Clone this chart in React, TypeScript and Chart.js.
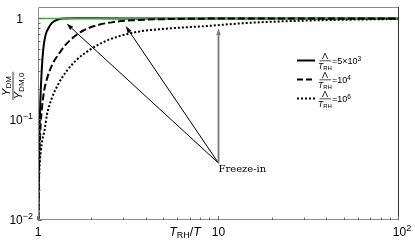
import React, { useEffect, useRef } from 'react';
import { Chart, registerables } from 'chart.js';

Chart.register(...registerables);

// x = T_RH / T, y = Y_DM / Y_DM,0
const solidX = [1.002, 1.006, 1.01, 1.02, 1.03, 1.05, 1.07, 1.1, 1.15, 1.2, 1.3, 1.4, 1.6, 2, 3, 5, 10, 30, 100];
const solidY = [0.006, 0.014, 0.03, 0.08, 0.15, 0.32, 0.5, 0.68, 0.82, 0.91, 0.98, 1.0, 1.008, 1.004, 1.0, 1.0, 1.0, 1.0, 1.0];

const dashedX = [1.002, 1.006, 1.01, 1.02, 1.035, 1.05, 1.08, 1.12, 1.2, 1.3, 1.4, 1.57, 1.78, 2.2, 2.6, 3.35, 5, 8, 15, 100];
const dashedY = [0.005, 0.013, 0.025, 0.05, 0.09, 0.125, 0.19, 0.25, 0.35, 0.44, 0.53, 0.65, 0.76, 0.87, 0.92, 0.96, 0.985, 0.996, 1.0, 1.0];

const dottedX = [1.002, 1.006, 1.013, 1.025, 1.05, 1.09, 1.12, 1.19, 1.29, 1.44, 1.64, 1.94, 2.29, 2.84, 3.6, 5, 8.5, 14, 22, 40, 70, 100];
const dottedY = [0.005, 0.012, 0.025, 0.038, 0.058, 0.08, 0.11, 0.16, 0.22, 0.3, 0.39, 0.49, 0.58, 0.67, 0.74, 0.79, 0.84, 0.9, 0.935, 0.965, 0.98, 0.99];

const greenX = [1, 100];
const greenY = [1, 1];

// axis ticks
const xMajor = [1, 10, 100];
const xMajorBase = ['1', '10', '10'];
const xMajorExp = ['', '', '2'];
const xMinor = [2, 3, 4, 5, 6, 7, 8, 9, 20, 30, 40, 50, 60, 70, 80, 90];
const yMajor = [0.01, 0.1, 1];
const yMajorBase = ['10', '10', '1'];
const yMajorExp = ['\u22122', '\u22121', ''];
const yMinor = [0.02, 0.03, 0.04, 0.05, 0.06, 0.07, 0.08, 0.09, 0.2, 0.3, 0.4, 0.5, 0.6, 0.7, 0.8, 0.9];

// legend values: Λ/T_RH = ...
const legendBase = ['5\u00d710', '10', '10'];
const legendExp = ['3', '4', '6'];

// "Freeze-in" annotation arrows (data coordinates)
const arrowTailX = 10;
const arrowTailY = 0.0367;
const arrowHeadX = [1.44, 3.06, 10];
const arrowHeadY = [0.89, 0.84, 0.8];

const SANS = '"Liberation Sans", Arial, sans-serif';
const SERIF = '"DejaVu Serif", serif';

type Part = { t: string; f: string; dy?: number };

function richWidth(ctx: CanvasRenderingContext2D, parts: Part[]) {
  let w = 0;
  for (const p of parts) {
    ctx.font = p.f;
    w += ctx.measureText(p.t).width;
  }
  return w;
}

function drawRich(ctx: CanvasRenderingContext2D, parts: Part[], x: number, y: number, align: 'left' | 'center' | 'right') {
  const w = richWidth(ctx, parts);
  let cx = align === 'left' ? x : align === 'center' ? x - w / 2 : x - w;
  ctx.textAlign = 'left';
  ctx.textBaseline = 'alphabetic';
  for (const p of parts) {
    ctx.font = p.f;
    ctx.fillText(p.t, cx, y + (p.dy || 0));
    cx += ctx.measureText(p.t).width;
  }
  return w;
}

function arrow(ctx: CanvasRenderingContext2D, x0: number, y0: number, x1: number, y1: number, color: string, lw: number, hl: number, hw: number) {
  const ang = Math.atan2(y1 - y0, x1 - x0);
  const bx = x1 - hl * Math.cos(ang);
  const by = y1 - hl * Math.sin(ang);
  ctx.strokeStyle = color;
  ctx.fillStyle = color;
  ctx.lineWidth = lw;
  ctx.setLineDash([]);
  ctx.beginPath();
  ctx.moveTo(x0, y0);
  ctx.lineTo(bx, by);
  ctx.stroke();
  ctx.beginPath();
  ctx.moveTo(x1, y1);
  ctx.lineTo(bx + (hw / 2) * Math.sin(ang), by - (hw / 2) * Math.cos(ang));
  ctx.lineTo(bx - (hw / 2) * Math.sin(ang), by + (hw / 2) * Math.cos(ang));
  ctx.closePath();
  ctx.fill();
}

const overlay = {
  id: 'overlay',
  afterDraw(chart: any) {
    const ctx: CanvasRenderingContext2D = chart.ctx;
    const a = chart.chartArea;
    const xs = chart.scales.x;
    const ys = chart.scales.y;
    const px = (v: number) => xs.getPixelForValue(v);
    const py = (v: number) => ys.getPixelForValue(v);
    ctx.save();

    // frame
    ctx.setLineDash([]);
    ctx.lineWidth = 1;
    ctx.strokeStyle = '#8c8c8c';
    ctx.beginPath();
    ctx.moveTo(a.left + 0.5, a.top + 0.5);
    ctx.lineTo(a.right - 0.5, a.top + 0.5);
    ctx.moveTo(a.left + 0.5, a.top + 0.5);
    ctx.lineTo(a.left + 0.5, a.bottom - 0.5);
    ctx.lineTo(a.right - 0.5, a.bottom - 0.5);
    ctx.stroke();
    ctx.strokeStyle = '#333';
    ctx.beginPath();
    ctx.moveTo(a.right - 0.5, a.top);
    ctx.lineTo(a.right - 0.5, a.bottom);
    ctx.stroke();

    // ticks
    ctx.strokeStyle = '#666';
    ctx.beginPath();
    for (const v of xMajor) {
      const x = Math.round(px(v)) - 0.5;
      ctx.moveTo(x, a.bottom);
      ctx.lineTo(x, a.bottom - 4);
    }
    for (const v of xMinor) {
      const x = Math.round(px(v)) - 0.5;
      ctx.moveTo(x, a.bottom);
      ctx.lineTo(x, a.bottom - 2.5);
    }
    for (const v of yMajor) {
      const y = Math.round(py(v)) + 0.5;
      ctx.moveTo(a.left, y);
      ctx.lineTo(a.left + 4, y);
    }
    for (const v of yMinor) {
      const y = Math.round(py(v)) + 0.5;
      ctx.moveTo(a.left, y);
      ctx.lineTo(a.left + 2.5, y);
    }
    ctx.stroke();

    // tick labels
    ctx.fillStyle = '#000';
    const f12 = `12px ${SANS}`;
    const f9 = `9px ${SANS}`;
    xMajor.forEach((v, i) => {
      const parts: Part[] = [{ t: xMajorBase[i], f: f12 }];
      if (xMajorExp[i]) parts.push({ t: xMajorExp[i], f: f9, dy: -5 });
      drawRich(ctx, parts, px(v) + (xMajorExp[i] ? 3 : 0), a.bottom + 15.5, 'center');
    });
    yMajor.forEach((v, i) => {
      const parts: Part[] = [{ t: yMajorBase[i], f: f12 }];
      if (yMajorExp[i]) parts.push({ t: yMajorExp[i], f: f9, dy: -5 });
      drawRich(ctx, parts, yMajorExp[i] ? a.left - 5 : a.left - 15, py(v) + 4.3, 'right');
    });

    // x title
    const fi12 = `italic 12.5px ${SANS}`;
    drawRich(
      ctx,
      [
        { t: 'T', f: fi12 },
        { t: 'RH', f: `9px ${SANS}`, dy: 2.5 },
        { t: '/', f: `12.5px ${SANS}` },
        { t: 'T', f: fi12 },
      ],
      185,
      a.bottom + 15.5,
      'center'
    );

    // y title (fraction, rotated)
    ctx.save();
    ctx.translate(13, 86);
    ctx.rotate(-Math.PI / 2);
    const num: Part[] = [
      { t: 'Y', f: `italic 11px ${SANS}` },
      { t: 'DM', f: `8px ${SANS}`, dy: 1.5 },
    ];
    const den: Part[] = [
      { t: 'Y', f: `italic 11px ${SANS}` },
      { t: 'DM,0', f: `8px ${SANS}`, dy: 2 },
    ];
    drawRich(ctx, num, 0, -3.2, 'center');
    const dw = drawRich(ctx, den, 0, 8.5, 'center');
    ctx.strokeStyle = '#000';
    ctx.lineWidth = 0.8;
    ctx.beginPath();
    ctx.moveTo(-dw / 2 - 1, 0);
    ctx.lineTo(dw / 2 + 1, 0);
    ctx.stroke();
    ctx.restore();

    // legend
    const dashes = [[], [6, 3], [2, 2]];
    const rowY = [60.5, 79.5, 98.5];
    rowY.forEach((ry, i) => {
      ctx.strokeStyle = '#000';
      ctx.lineWidth = 2;
      ctx.setLineDash(dashes[i]);
      ctx.beginPath();
      ctx.moveTo(297, ry);
      ctx.lineTo(315, ry);
      ctx.stroke();
      ctx.setLineDash([]);
      ctx.fillStyle = '#000';
      drawRich(ctx, [{ t: '\u039b', f: `9px ${SANS}` }], 325, ry - 1.5, 'center');
      ctx.lineWidth = 0.7;
      ctx.beginPath();
      ctx.moveTo(319.5, ry + 0.3);
      ctx.lineTo(331, ry + 0.3);
      ctx.stroke();
      drawRich(
        ctx,
        [
          { t: 'T', f: `italic 8.5px ${SANS}` },
          { t: 'RH', f: `6px ${SANS}`, dy: 1.5 },
        ],
        325,
        ry + 8,
        'center'
      );
      drawRich(
        ctx,
        [
          { t: '=' + legendBase[i], f: `9px ${SANS}` },
          { t: legendExp[i], f: `6.5px ${SANS}`, dy: -3.5 },
        ],
        332,
        ry + 3.5,
        'left'
      );
    });

    // arrows
    const tx = px(arrowTailX);
    const ty = py(arrowTailY);
    arrowHeadX.forEach((hx, i) => {
      const gray = i === 2;
      arrow(ctx, tx, ty, px(hx), py(arrowHeadY[i]), gray ? '#777' : '#000', gray ? 1.8 : 1, 7, 4.5);
    });
    ctx.fillStyle = '#000';
    ctx.font = `10px ${SERIF}`;
    ctx.textAlign = 'left';
    ctx.textBaseline = 'alphabetic';
    ctx.fillText('Freeze-in', tx, ty + 9);

    ctx.restore();
  },
};

const pts = (xv: number[], yv: number[]) => xv.map((x, i) => ({ x, y: yv[i] }));

export default function App() {
  const ref = useRef<HTMLCanvasElement>(null);
  useEffect(() => {
    const line = {
      showLine: true,
      pointRadius: 0,
      fill: false,
      borderWidth: 2,
      borderColor: '#000',
      cubicInterpolationMode: 'monotone' as const,
    };
    const chart = new Chart(ref.current as HTMLCanvasElement, {
      type: 'scatter',
      data: {
        datasets: [
          { ...line, label: 'solid', data: pts(solidX, solidY), order: 3 },
          { ...line, label: 'dashed', data: pts(dashedX, dashedY), borderDash: [7, 3], order: 1 },
          { ...line, label: 'dotted', data: pts(dottedX, dottedY), borderDash: [2, 2], order: 0 },
          { ...line, label: 'one', data: pts(greenX, greenY), borderColor: '#35b035', borderWidth: 1.5, order: 2 },
        ],
      },
      options: {
        responsive: false,
        animation: false,
        devicePixelRatio: 1,
        layout: { padding: { top: 7, right: 16, left: 0, bottom: 0 } },
        plugins: { legend: { display: false }, tooltip: { enabled: false } },
        scales: {
          x: {
            type: 'logarithmic',
            min: 1,
            max: 100,
            ticks: { display: false },
            grid: { display: false },
            border: { display: false },
            afterFit: (s: any) => {
              s.height = 25;
            },
          },
          y: {
            type: 'logarithmic',
            min: 0.01,
            max: 1.3,
            ticks: { display: false },
            grid: { display: false },
            border: { display: false },
            afterFit: (s: any) => {
              s.width = 38;
            },
          },
        },
      } as any,
      plugins: [overlay],
    });
    return () => chart.destroy();
  }, []);
  return (
    <div style={{ position: 'fixed', left: 0, top: 0, width: 415, height: 245, background: '#fff' }}>
      <canvas ref={ref} width={415} height={245} style={{ display: 'block', width: 415, height: 245 }} />
    </div>
  );
}
